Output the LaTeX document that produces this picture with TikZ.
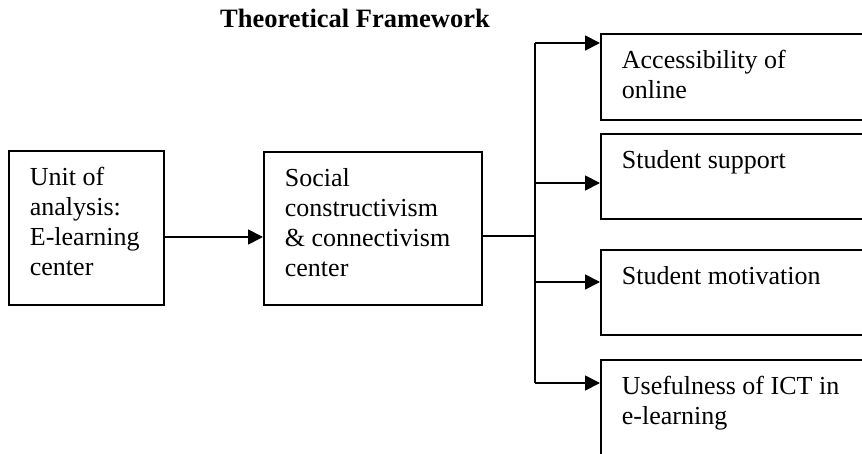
\documentclass[tikz,border=0pt]{standalone}
\usepackage{fontspec}
\setmainfont{Liberation Serif}
\usetikzlibrary{arrows.meta}
\newcommand{\boxtext}[3]{\parbox[c][#1][t]{#2}{\rule{0pt}{35pt}#3}}
\begin{document}
\begin{tikzpicture}[x=1pt, y=1pt,
    font=\fontsize{26}{30}\selectfont,
    frame/.style={draw, line width=1.8pt, anchor=north west, inner xsep=21pt, inner ysep=0pt, align=left},
    link/.style={line width=1.8pt},
    arrowlink/.style={link, -{Triangle[length=15pt, width=15pt]}}]
        \useasboundingbox (0,0) rectangle (862,-454);
        \clip (0,0) rectangle (862,-454);

        % Title
        \node[anchor=base, font=\fontsize{26.5}{30}\selectfont\bfseries] (title) at (355,-28) {Theoretical Framework};

        % Left part of the framework
        \node[frame] (unit) at (8,-150) {\boxtext{154pt}{113pt}{Unit of\\analysis:\\E-learning\\center}};
        \node[frame] (social) at (263,-151) {\boxtext{153pt}{176pt}{Social\\constructivism\\\& connectivism\\center}};

        % Boxes on the right
        \node[frame] (access) at (600,-33) {\boxtext{86pt}{260pt}{Accessibility of\\online}};
        \node[frame] (support) at (600,-133) {\boxtext{85pt}{260pt}{Student support}};
        \node[frame] (motivation) at (600,-249) {\boxtext{85pt}{260pt}{Student motivation}};
        \node[frame] (ict) at (600,-359) {\boxtext{130pt}{260pt}{Usefulness of ICT in\\e-learning}};

        % Branch points
        \coordinate (hub) at (535,-236);
        \coordinate (b1) at (535,-43);
        \coordinate (b2) at (535,-183);
        \coordinate (b3) at (535,-282);
        \coordinate (b4) at (535,-383);

        % Connectors
        \draw[arrowlink] (unit.east |- 0,-237) -- (social.west |- 0,-237);
        \draw[link] (social.east |- hub) -- (hub);
        \draw[link] (b1) -- (b4);
        \draw[arrowlink] (b1) -- (access.west |- b1);
        \draw[arrowlink] (b2) -- (support.west |- b2);
        \draw[arrowlink] (b3) -- (motivation.west |- b3);
        \draw[arrowlink] (b4) -- (ict.west |- b4);
    \end{tikzpicture}
\end{document}
